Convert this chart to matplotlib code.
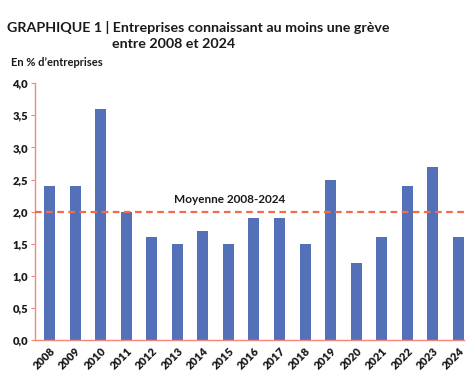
import matplotlib
matplotlib.use("Agg")
import matplotlib.pyplot as plt
import numpy as np

years = ["2008", "2009", "2010", "2011", "2012", "2013", "2014", "2015", "2016",
         "2017", "2018", "2019", "2020", "2021", "2022", "2023", "2024"]
values = [2.4, 2.4, 3.6, 2.0, 1.6, 1.5, 1.7, 1.5, 1.9, 1.9, 1.5, 2.5, 1.2, 1.6, 2.4, 2.7, 1.6]
mean_value = 2.0
y_ticks = [0.0, 0.5, 1.0, 1.5, 2.0, 2.5, 3.0, 3.5, 4.0]
y_tick_labels = ["0,0", "0,5", "1,0", "1,5", "2,0", "2,5", "3,0", "3,5", "4,0"]

plt.rcParams['font.family'] = ['Lato', 'DejaVu Sans']

fig = plt.figure(figsize=(4.75, 3.82), dpi=100)
ax = fig.add_axes([35/475, (382-340)/382, (464-35)/475, (340-83.3)/382])

bar_color = "#5470b9"
axis_color = "#f4877a"
x = np.arange(len(years))
ax.bar(x, values, width=0.43, color=bar_color, zorder=2)
ax.axhline(mean_value, color="#f26b4a", lw=1.6, ls=(0, (3, 2)), zorder=3)
ax.text(7.06, mean_value + 0.19, "Moyenne 2008-2024", fontsize=8.5, fontweight="bold",
        color="#1a1a1a", ha="center", va="center")

ax.set_xlim(-0.57, 16.22)
ax.set_ylim(0, 4)
ax.set_yticks(y_ticks)
ax.set_yticklabels(y_tick_labels, fontsize=8, fontweight="heavy", color="#1a1a1a")
ax.set_xticks(x)
ax.set_xticklabels(years, rotation=45, ha="right", rotation_mode="anchor",
                   fontsize=8, fontweight="heavy", color="#1a1a1a")
ax.tick_params(axis="x", length=0, pad=4)
ax.tick_params(axis="y", length=3, color=axis_color, pad=2)
for s in ["top", "right"]:
    ax.spines[s].set_visible(False)
for s in ["left", "bottom"]:
    ax.spines[s].set_color(axis_color)
    ax.spines[s].set_linewidth(1.0)

fig.text(7/475, 1 - 28/382, "GRAPHIQUE 1 | Entreprises connaissant au moins une grève",
         fontsize=10.3, fontweight="bold", color="#1a1a1a", va="center", ha="left")
fig.text(112/475, 1 - 44/382, "entre 2008 et 2024",
         fontsize=10.3, fontweight="bold", color="#1a1a1a", va="center", ha="left")
fig.text(11/475, 1 - 63/382, "En % d’entreprises",
         fontsize=8, fontweight="bold", color="#1a1a1a", va="center", ha="left")

fig.savefig("out.png", dpi=100)
